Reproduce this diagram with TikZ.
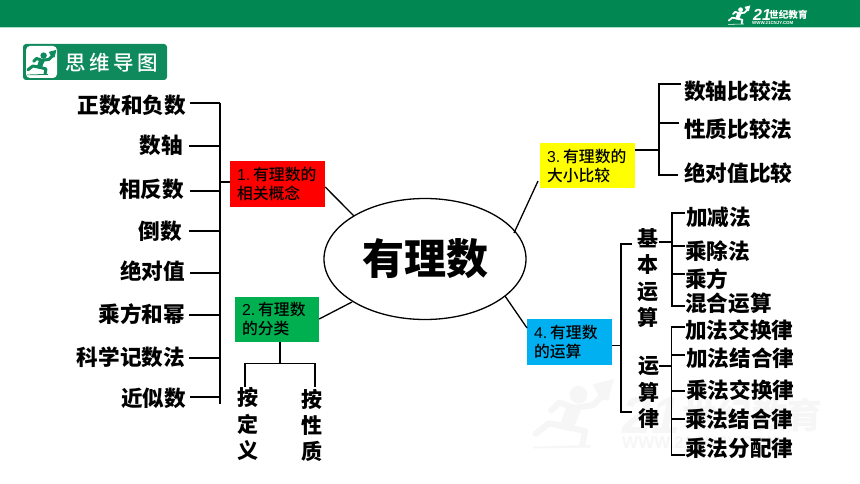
\documentclass[tikz,border=0pt]{standalone}
\usepackage{fontspec}
\usetikzlibrary{shapes.geometric}
\setmainfont{Noto Sans CJK SC}
\newfontfamily\latinfont{Liberation Sans}
\newfontfamily\cjkmed{Noto Sans CJK SC Medium}
\definecolor{hdr}{HTML}{008752}
\definecolor{hdrline}{HTML}{A8DCC8}
\definecolor{badge}{HTML}{0F8A5C}
\definecolor{boxred}{HTML}{FF0000}
\definecolor{boxgreen}{HTML}{00B050}
\definecolor{boxyellow}{HTML}{FFFF00}
\definecolor{boxblue}{HTML}{00B0F0}
\definecolor{wm}{HTML}{F6F6F6}
\newcommand\topicnum[1]{{\latinfont #1.}\hspace{3pt}}
\tikzset{
  pics/runner/.style 2 args={code={
    \fill[#2] (17.5,8) circle (3.4);
    \fill[#2] (13,12) -- (19,12.5) -- (15,22) -- (10,21) -- cycle;
    \draw[#2,line width=#1,line cap=round,line join=round] (12,20) -- (6,19) -- (1,23);
    \draw[#2,line width=#1,line cap=round,line join=round] (12,20) -- (20,22) -- (19,27);
    \draw[#2,line width=#1,line cap=round,line join=round] (16,13) -- (23,12) -- (26,9);
    \draw[#2,line width=#1,line cap=round,line join=round] (16,13) -- (10,11) -- (7,14);
    \fill[#2] (23,4) -- (31,2) -- (29,10) -- (26,10) -- cycle;
    \fill[#2] (0,28) -- (22,27.3) -- (22,28.3) -- (0,28.6) -- cycle;
  }},
  conn/.style={draw=black,line width=1.3pt},
  bus/.style={draw=black,line width=1.6pt},
  leaf/.style={font=\bfseries\fontsize{21.6}{26}\selectfont,inner sep=0pt,text=black},
  vleaf/.style={leaf,align=center,font=\bfseries\fontsize{21}{26.3}\selectfont},
  topic/.style={rectangle,inner sep=0pt,text=black,align=left,
    font=\cjkmed\fontsize{15.8}{19}\selectfont},
}
\begin{document}
\begin{tikzpicture}[x=1pt,y=-1pt]
\useasboundingbox (0,0) rectangle (860,484);
\fill[white] (0,0) rectangle (860,484);
% header
\fill[hdr] (0,0) rectangle (860,27);
\fill[hdrline] (0,27) rectangle (860,28.5);
\pic[scale=.72] at (728,4) {runner={1.8pt}{white}};
\node[inner sep=0pt,text=white,anchor=west,font=\latinfont\bfseries\itshape\fontsize{16}{16}\selectfont] (logonum) at (753,14.5) {21};
\node[inner sep=0pt,text=white,anchor=west,font=\bfseries\fontsize{9.6}{10}\selectfont] (logotxt) at (769,15) {世纪教育};
\node[inner sep=0pt,text=white,anchor=west,font=\latinfont\bfseries\fontsize{4.4}{5}\selectfont] (logourl) at (752,22.5) {WWW.21CNJY.COM};
% watermark
\pic[scale=2.6] at (533,374) {runner={6pt}{wm}};
\node[inner sep=0pt,text=wm,anchor=west,font=\latinfont\bfseries\itshape\fontsize{52}{52}\selectfont] (wmnum) at (622,415) {21};
\node[inner sep=0pt,text=wm,anchor=west,font=\bfseries\fontsize{35}{35}\selectfont] (wmtxt) at (682,415) {世纪教育};
\node[inner sep=0pt,text=wm,anchor=west,font=\latinfont\bfseries\fontsize{17}{17}\selectfont] (wmurl) at (622,443) {WWW.21CNJY.COM};
% badge
\fill[badge,rounded corners=3pt] (23,44) rectangle (167,80);
\fill[white,rounded corners=4pt] (26,46) rectangle (57,78);
\pic[scale=.95] at (27,48) {runner={3pt}{badge}};
\node[inner sep=0pt,text=white,anchor=west,font=\cjkmed\fontsize{20.5}{22}\selectfont] (badgetxt) at (65,63) {思\hspace{3.6pt}维\hspace{3.6pt}导\hspace{3.6pt}图};
% centre
\node[ellipse,draw=black,line width=1.3pt,minimum width=202pt,minimum height=121pt,inner sep=0pt,font=\bfseries\fontsize{42}{46}\selectfont] (root) at (425,259) {有理数};
% topic boxes
\node[topic,fill=boxred,minimum width=95pt,minimum height=46pt,text width=81pt] (t1) at (277.5,184) {\topicnum{1}有理数的\\相关概念};
\node[topic,fill=boxgreen,minimum width=84pt,minimum height=45pt,text width=70pt] (t2) at (277,319.5) {\topicnum{2}有理数\\的分类};
\node[topic,fill=boxyellow,minimum width=95pt,minimum height=45pt,text width=81pt] (t3) at (587.5,165.5) {\topicnum{3}有理数的\\大小比较};
\node[topic,fill=boxblue,minimum width=85pt,minimum height=46pt,text width=71pt] (t4) at (569.5,342) {\topicnum{4}有理数\\的运算};
% root connectors
\draw[conn] (t1.east |- 0,187) -- (354,216);
\draw[conn] (t2.east |- 0,319) -- (352,302);
\draw[conn] (538,181) -- (514,233);
\draw[conn] (505,296) -- (527,328);
% left leaves
\node[leaf,anchor=east] (a1) at (186,105) {正数和负数};
\node[leaf,anchor=east] (a2) at (183,145) {数轴};
\node[leaf,anchor=east] (a3) at (184,189) {相反数};
\node[leaf,anchor=east] (a4) at (182,231) {倒数};
\node[leaf,anchor=east] (a5) at (185,271) {绝对值};
\node[leaf,anchor=east] (a6) at (185,314) {乘方和幂};
\node[leaf,anchor=east] (a7) at (185,357) {科学记数法};
\node[leaf,anchor=east] (a8) at (186,398) {近似数};
\coordinate (abus1) at (220,103);
\coordinate (abus2) at (220,404);
\draw[bus] (abus1) -- (abus2);
\draw[conn] (abus1) -- (190,103);
\draw[conn] (219,146) -- (189,146);
\draw[conn] (220,191) -- (190,191);
\draw[conn] (219,231) -- (189,231);
\draw[conn] (220,273) -- (190,273);
\draw[conn] (219,315) -- (189,315);
\draw[conn] (219,358) -- (189,358);
\draw[conn] (220,397) -- (190,397);
\draw[conn] (abus1 |- 0,182) -- (t1.west |- 0,182);
% topic 2 leaves
\coordinate (b) at (280,363.5);
\draw[conn] (t2.south -| b) -- (b);
\node[vleaf] (b1) at (247.5,424) {按\\定\\义};
\node[vleaf] (b2) at (311.5,425.5) {按\\性\\质};
\draw[bus] (245,387) -- (245,363.5) -- (315,363.5) -- (315,387);
% topic 3 leaves
\node[leaf,anchor=west] (c1) at (684,91) {数轴比较法};
\node[leaf,anchor=west] (c2) at (684,129) {性质比较法};
\node[leaf,anchor=west] (c3) at (684,173) {绝对值比较};
\draw[bus] (681,84) -- (659,84) -- (659,175) -- (678,175);
\draw[conn] (659,123) -- (679,123);
\draw[conn] (t3.east |- 0,150) -- (659,150);
% topic 4 branches
\node[vleaf] (d1) at (647.5,278) {基\\本\\运\\算};
\node[vleaf] (d2) at (648.5,392.5) {运\\算\\律};
\draw[bus] (632,244) -- (621,244) -- (621,412) -- (632,412);
\draw[conn] (t4.east |- 0,345.5) -- (621,345.5);
% basic operations
\node[leaf,anchor=west] (e1) at (686,217) {加减法};
\node[leaf,anchor=west] (e2) at (685,251) {乘除法};
\node[leaf,anchor=west] (e3) at (685,279) {乘方};
\node[leaf,anchor=west] (e4) at (685,303) {混合运算};
\draw[bus] (685,213) -- (672,213) -- (672,306) -- (685,306);
\draw[conn] (659,242) -- (672,242);
\draw[conn] (672,246) -- (685,246);
\draw[conn] (672,274) -- (685,274);
% laws
\node[leaf,anchor=west] (f1) at (685,330) {加法交换律};
\node[leaf,anchor=west] (f2) at (686,358) {加法结合律};
\node[leaf,anchor=west] (f3) at (686,390) {乘法交换律};
\node[leaf,anchor=west] (f4) at (685,419) {乘法结合律};
\node[leaf,anchor=west] (f5) at (685,448) {乘法分配律};
\draw[bus] (685,327) -- (671.5,327) -- (671.5,455) -- (685,455);
\draw[conn] (659,366) -- (671,366);
\draw[conn] (671,355) -- (685,355);
\draw[conn] (671,391) -- (685,391);
\draw[conn] (671,419) -- (685,419);
\end{tikzpicture}
\end{document}
